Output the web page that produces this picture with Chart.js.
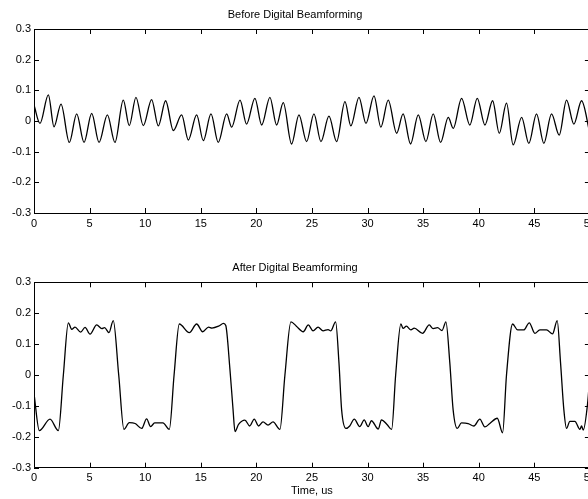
<!DOCTYPE html>
<html>
<head>
<meta charset="utf-8">
<title>Digital Beamforming</title>
<script src="https://cdn.jsdelivr.net/npm/chart.js@4/dist/chart.umd.min.js"></script>
<style>
    html, body { margin: 0; padding: 0; background: #fff; overflow: hidden; }
    #wrap { position: relative; width: 588px; height: 499px; overflow: hidden; }
    canvas { position: absolute; left: 0; }
    #before-chart { top: 0; }
    #after-chart  { top: 250px; }
</style>
</head>
<body>
<div id="wrap">
    <canvas id="before-chart" width="600" height="250"></canvas>
    <canvas id="after-chart"  width="600" height="249"></canvas>
</div>
<script>
// ─── Data (peaks, troughs and edges) ────────────────────────────────────────

const beforeTime = [
    0, 0.54, 1.29, 1.8, 2.43, 3.18, 3.84, 4.5, 5.19, 5.85, 6.6, 7.28, 8.03, 8.57, 9.17, 9.83,
    10.58, 11.18, 11.84, 12.53, 13.28, 13.88, 14.63, 15.23, 15.92, 16.57, 17.33, 17.78, 18.53, 19.12, 19.87,
    20.48, 21.22, 21.82, 22.42, 23.17, 23.83, 24.52, 25.18, 25.81, 26.53, 27.22, 27.97, 28.5, 29.23, 29.86,
    30.58, 31.2, 31.86, 32.62, 33.2, 33.87, 34.56, 35.25, 35.91, 36.57, 37.26, 37.71, 38.46, 39.2, 39.87,
    40.56, 41.25, 41.85, 42.5, 43.1, 43.86, 44.51, 45.2, 45.86, 46.55, 47.24, 47.9, 48.56, 49.25, 50,
];
const beforeAmp = [
    0.052, -0.008, 0.085, -0.019, 0.055, -0.07, 0.023, -0.07, 0.025, -0.07, 0.02, -0.07, 0.068, -0.015, 0.077, -0.015,
    0.07, -0.016, 0.066, -0.031, 0.02, -0.062, 0.02, -0.064, 0.023, -0.07, 0.023, -0.02, 0.068, -0.01, 0.074,
    -0.013, 0.077, -0.013, 0.06, -0.075, 0.02, -0.067, 0.023, -0.067, 0.016, -0.067, 0.063, -0.016, 0.077, -0.008,
    0.082, -0.02, 0.068, -0.04, 0.023, -0.075, 0.02, -0.067, 0.023, -0.07, 0.012, -0.024, 0.074, -0.013, 0.074,
    -0.013, 0.066, -0.04, 0.058, -0.078, 0.012, -0.073, 0.023, -0.073, 0.023, -0.046, 0.068, -0.01, 0.066, -0.04,
];

const afterTime = [
    0, 0.48, 1.44, 2.19, 2.64, 3.09, 3.39, 3.69, 4.2, 4.59, 5.04, 5.64, 6.1, 6.35, 6.74, 7.13, 7.62,
    8.09, 8.57, 9.1, 9.68, 10.13, 10.49, 10.85, 11.6, 12.17, 12.6, 13.07, 13.97, 14.63, 15.17, 15.7, 16.0,
    16.6, 17.05, 17.25, 17.62, 17.9, 18.08, 18.4, 18.97, 19.4, 19.81, 20.2, 20.6, 21.05, 21.5, 22.12, 22.57,
    23.11, 23.6, 24.22, 24.67, 25.1, 25.55, 26.0, 26.45, 26.7, 27.13, 27.43, 27.67, 28.06, 28.4, 28.81, 29.3,
    29.7, 30.05, 30.35, 30.97, 31.25, 31.75, 32.17, 32.53, 33.0, 33.2, 33.5, 33.9, 34.2, 34.95, 35.55, 35.9,
    36.3, 36.7, 37.05, 37.4, 37.7, 38.07, 38.45, 39.05, 39.56, 40.1, 40.55, 41.0, 41.67, 42.15, 42.5, 43.05,
    43.5, 44.05, 44.55, 45.05, 45.5, 46.1, 46.64, 47.06, 47.36, 47.66, 47.9, 48.2, 48.65, 49.1, 49.25, 49.4,
    49.8, 50,
];
const afterAmp = [
    -0.06, -0.18, -0.143, -0.18, 0.0, 0.169, 0.148, 0.155, 0.139, 0.154, 0.132, 0.162, 0.15, 0.153, 0.137, 0.176, 0.0,
    -0.176, -0.154, -0.157, -0.173, -0.142, -0.167, -0.155, -0.155, -0.176, 0.0, 0.165, 0.137, 0.165, 0.14, 0.155, 0.152,
    0.158, 0.167, 0.16, 0.02, -0.11, -0.183, -0.16, -0.146, -0.165, -0.143, -0.165, -0.152, -0.162, -0.152, -0.176, 0.0,
    0.172, 0.158, 0.14, 0.162, 0.143, 0.155, 0.143, 0.147, 0.143, 0.172, 0.04, -0.113, -0.173, -0.165, -0.143, -0.167,
    -0.145, -0.167, -0.148, -0.175, -0.145, -0.16, -0.176, 0.0, 0.165, 0.151, 0.158, 0.146, 0.152, 0.135, 0.162, 0.15,
    0.153, 0.144, 0.172, 0.04, -0.113, -0.173, -0.155, -0.157, -0.165, -0.143, -0.168, -0.157, -0.14, -0.187, 0.0, 0.165,
    0.146, 0.146, 0.169, 0.135, 0.146, 0.146, 0.133, 0.176, 0.04, -0.113, -0.173, -0.15, -0.15, -0.176, -0.165, -0.178,
    -0.09, 0.0,
];

const xTicks = { min: 0, max: 50, step: 5 };
const yTicks = { min: -0.3, max: 0.3, step: 0.1 };

// ─── Helpers ────────────────────────────────────────────────────────────────

const FONT = 'Liberation Sans, Arial, Helvetica, sans-serif';

// MATLAB-style box with inward tick marks on all four sides
const boxTicks = {
    id: 'boxTicks',
    afterDatasetsDraw(chart) {
        const { ctx, chartArea: a, scales: { x, y } } = chart;
        const L = 5;
        ctx.save();
        ctx.strokeStyle = '#000';
        ctx.lineWidth = 1;
        ctx.beginPath();
        ctx.rect(Math.round(a.left) + 0.5, Math.round(a.top) + 0.5,
                 Math.round(a.right - a.left), Math.round(a.bottom - a.top));
        x.ticks.forEach(t => {
            const px = Math.round(x.getPixelForValue(t.value)) + 0.5;
            ctx.moveTo(px, a.bottom); ctx.lineTo(px, a.bottom - L);
            ctx.moveTo(px, a.top);    ctx.lineTo(px, a.top + L);
        });
        y.ticks.forEach(t => {
            const py = Math.round(y.getPixelForValue(t.value)) + 0.5;
            ctx.moveTo(a.left, py);  ctx.lineTo(a.left + L, py);
            ctx.moveTo(a.right, py); ctx.lineTo(a.right - L, py);
        });
        ctx.stroke();
        ctx.restore();
    },
};

function makeChart(id, title, times, amps, opt) {
    const ctx = document.getElementById(id).getContext('2d');
    return new Chart(ctx, {
        type: 'line',
        data: {
            datasets: [{
                data: times.map((t, i) => ({ x: t, y: amps[i] })),
                borderColor: '#000',
                borderWidth: 1.3,
                pointRadius: 0,
                fill: false,
                cubicInterpolationMode: 'monotone',
            }],
        },
        options: {
            responsive: false,
            animation: false,
            layout: { padding: { left: 0, right: 10, top: 0, bottom: 0 } },
            plugins: {
                legend:  { display: false },
                tooltip: { enabled: false },
                title: {
                    display: true,
                    text: title,
                    color: '#000',
                    font: { size: 11, family: FONT, weight: 'normal' },
                    padding: opt.titlePad,
                },
            },
            scales: {
                x: {
                    type: 'linear',
                    min: xTicks.min, max: xTicks.max,
                    ticks: { stepSize: xTicks.step, color: '#000', padding: 4, maxRotation: 0,
                             font: { size: 11, family: FONT } },
                    grid: { display: false, drawTicks: false },
                    border: { display: false },
                    title: opt.xTitle
                        ? { display: true, text: opt.xTitle, color: '#000',
                            font: { size: 11, family: FONT }, padding: { top: 0, bottom: 1 } }
                        : { display: false },
                    afterFit: s => { s.height = opt.xHeight; },
                },
                y: {
                    min: yTicks.min, max: yTicks.max,
                    ticks: { stepSize: yTicks.step, color: '#000', padding: 3,
                             font: { size: 11, family: FONT },
                             callback: v => String(+v.toFixed(1)) },
                    grid: { display: false, drawTicks: false },
                    border: { display: false },
                    afterFit: s => { s.width = 34; },
                },
            },
        },
        plugins: [boxTicks],
    });
}

// ─── Charts ─────────────────────────────────────────────────────────────────

makeChart('before-chart', 'Before Digital Beamforming', beforeTime, beforeAmp, {
    titlePad: { top: 8, bottom: 7.8 },
    xHeight:  37,
});

makeChart('after-chart', 'After Digital Beamforming', afterTime, afterAmp, {
    titlePad: { top: 11.4, bottom: 7.7 },
    xHeight:  31.3,
    xTitle:   'Time, us',
});
</script>
</body>
</html>
